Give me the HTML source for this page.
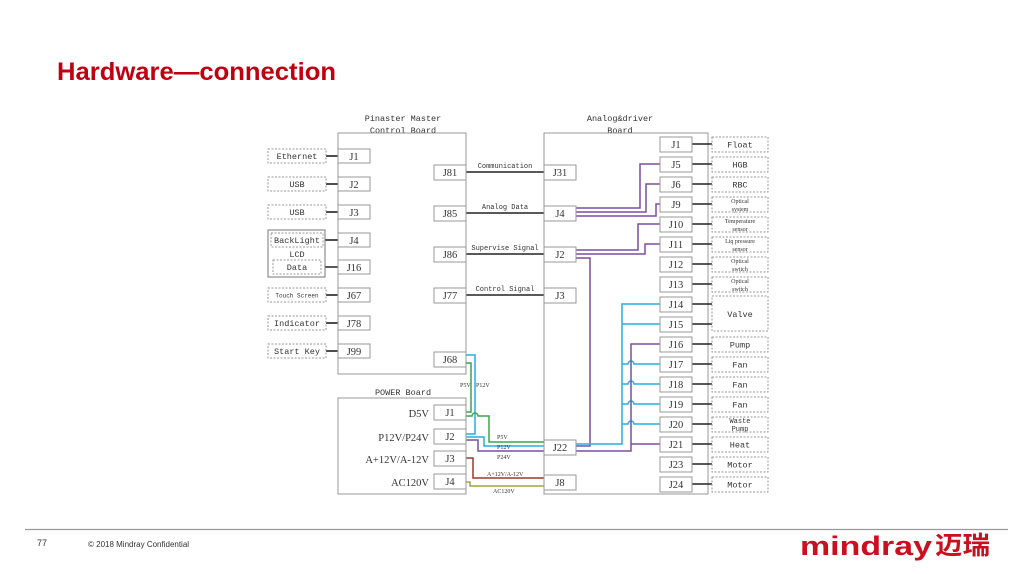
<!DOCTYPE html>
<html><head><meta charset="utf-8"><style>
html,body{margin:0;padding:0;background:#fff;width:1024px;height:574px;overflow:hidden}
svg{display:block}
.t{font-family:"Liberation Mono",monospace;font-size:8.5px;fill:#333}
.c{font-family:"Liberation Serif",serif;font-size:10.5px;fill:#333}
.s{font-family:"Liberation Mono",monospace;font-size:7px;fill:#333}
.xs{font-family:"Liberation Serif",serif;font-size:6px;fill:#333}
.b{fill:#fff;stroke:#999;stroke-width:1}
.d{fill:#fff;stroke:#999;stroke-width:1;stroke-dasharray:2,1.5}
.k{stroke:#222;stroke-width:1.6;fill:none}
.p{stroke:#7b4fa3;stroke-width:1.5;fill:none}
.cy{stroke:#29aee0;stroke-width:1.5;fill:none}
.g{stroke:#3aa650;stroke-width:1.5;fill:none}
</style></head><body>
<svg width="1024" height="574" viewBox="0 0 1024 574" xmlns="http://www.w3.org/2000/svg">
<text x="57" y="80" textLength="279" lengthAdjust="spacingAndGlyphs" style="font-family:'Liberation Sans',sans-serif;font-weight:bold;font-size:25px;fill:#c00010">Hardware—connection</text>

<!-- master board -->
<text class="t" x="403" y="121" text-anchor="middle">Pinaster Master</text>
<text class="t" x="403" y="133" text-anchor="middle">Control Board</text>
<rect class="b" x="338" y="133" width="128" height="241"/>
<!-- analog board -->
<text class="t" x="620" y="121" text-anchor="middle">Analog&amp;driver</text>
<text class="t" x="620" y="133" text-anchor="middle">Board</text>
<rect class="b" x="544" y="133" width="164" height="361"/>
<!-- power board -->
<text class="t" x="403" y="395" text-anchor="middle">POWER Board</text>
<rect class="b" x="338" y="398" width="128" height="96"/>

<!-- left externals -->
<g>
<line class="k" x1="326" y1="156" x2="338" y2="156"/><line class="k" x1="326" y1="184" x2="338" y2="184"/>
<line class="k" x1="326" y1="212" x2="338" y2="212"/><line class="k" x1="323" y1="240" x2="338" y2="240"/>
<line class="k" x1="321" y1="267" x2="338" y2="267"/><line class="k" x1="326" y1="295" x2="338" y2="295"/>
<line class="k" x1="326" y1="323" x2="338" y2="323"/><line class="k" x1="326" y1="351" x2="338" y2="351"/>
<rect class="d" x="268" y="149" width="58" height="14"/><text class="t" x="297" y="159" text-anchor="middle">Ethernet</text>
<rect class="d" x="268" y="177" width="58" height="14"/><text class="t" x="297" y="187" text-anchor="middle">USB</text>
<rect class="d" x="268" y="205" width="58" height="14"/><text class="t" x="297" y="215" text-anchor="middle">USB</text>
<rect class="b" x="268" y="230" width="57" height="47" style="stroke:#777"/>
<rect class="d" x="271" y="233" width="52" height="14"/><text class="t" x="297" y="243" text-anchor="middle">BackLight</text>
<text class="t" x="297" y="257" text-anchor="middle">LCD</text>
<rect class="d" x="273" y="260" width="48" height="14"/><text class="t" x="297" y="270" text-anchor="middle">Data</text>
<rect class="d" x="268" y="288" width="58" height="14"/><text class="s" x="297" y="297.5" text-anchor="middle" style="font-size:6px">Touch Screen</text>
<rect class="d" x="268" y="316" width="58" height="14"/><text class="t" x="297" y="326" text-anchor="middle">Indicator</text>
<rect class="d" x="268" y="344" width="58" height="14"/><text class="t" x="297" y="354" text-anchor="middle">Start Key</text>
</g>
<!-- master left connectors -->
<g>
<rect class="b" x="338" y="149" width="32" height="14"/><text class="c" x="354" y="160" text-anchor="middle">J1</text>
<rect class="b" x="338" y="177" width="32" height="14"/><text class="c" x="354" y="188" text-anchor="middle">J2</text>
<rect class="b" x="338" y="205" width="32" height="14"/><text class="c" x="354" y="216" text-anchor="middle">J3</text>
<rect class="b" x="338" y="233" width="32" height="14"/><text class="c" x="354" y="244" text-anchor="middle">J4</text>
<rect class="b" x="338" y="260" width="32" height="14"/><text class="c" x="354" y="271" text-anchor="middle">J16</text>
<rect class="b" x="338" y="288" width="32" height="14"/><text class="c" x="354" y="299" text-anchor="middle">J67</text>
<rect class="b" x="338" y="316" width="32" height="14"/><text class="c" x="354" y="327" text-anchor="middle">J78</text>
<rect class="b" x="338" y="344" width="32" height="14"/><text class="c" x="354" y="355" text-anchor="middle">J99</text>
</g>
<!-- master right connectors & signal lines -->
<g>
<line class="k" x1="466" y1="172" x2="544" y2="172"/><text class="s" x="505" y="168" text-anchor="middle">Communication</text>
<line class="k" x1="466" y1="213" x2="544" y2="213"/><text class="s" x="505" y="209" text-anchor="middle">Analog Data</text>
<line class="k" x1="466" y1="254" x2="544" y2="254"/><text class="s" x="505" y="250" text-anchor="middle">Supervise Signal</text>
<line class="k" x1="466" y1="295" x2="544" y2="295"/><text class="s" x="505" y="291" text-anchor="middle">Control Signal</text>
<rect class="b" x="434" y="165" width="32" height="15"/><text class="c" x="450" y="176" text-anchor="middle">J81</text>
<rect class="b" x="434" y="206" width="32" height="15"/><text class="c" x="450" y="217" text-anchor="middle">J85</text>
<rect class="b" x="434" y="247" width="32" height="15"/><text class="c" x="450" y="258" text-anchor="middle">J86</text>
<rect class="b" x="434" y="288" width="32" height="15"/><text class="c" x="450" y="299" text-anchor="middle">J77</text>
<rect class="b" x="434" y="352" width="32" height="15"/><text class="c" x="450" y="363" text-anchor="middle">J68</text>
</g>

<!-- purple signal lines -->
<polyline class="p" points="576,208 640,208 640,164 660,164"/>
<polyline class="p" points="576,212 646,212 646,184 660,184"/>
<polyline class="p" points="576,216 656,216 656,204 660,204"/>
<polyline class="p" points="576,250 638,250 638,224 660,224"/>
<polyline class="p" points="576,254 645,254 645,244 660,244"/>
<polyline class="p" points="576,258 590,258 590,446 576,446"/>
<!-- cyan -->
<polyline class="cy" points="576,444 622,444 622,304 660,304"/>
<line class="cy" x1="622" y1="324" x2="660" y2="324"/>
<path class="cy" d="M622 364 H628 a3 3 0 0 1 6 0 H660 M622 384 H628 a3 3 0 0 1 6 0 H660 M622 404 H628 a3 3 0 0 1 6 0 H660 M622 424 H628 a3 3 0 0 1 6 0 H660"/>
<!-- purple J16/J21 -->
<polyline class="p" points="576,451 631,451 631,344 660,344"/>
<line class="p" x1="631" y1="444" x2="660" y2="444"/>

<!-- power lines -->
<polyline class="cy" points="466,355 475,355 475,434 466,434"/>
<polyline class="g" points="466,363 471,363 471,412 466,412"/>
<path class="g" d="M466 416 H472 a3 3 0 0 1 6 0 H489 V442 H544"/>
<polyline class="cy" points="466,437 484,437 484,446 544,446"/>
<polyline class="p" points="466,440 478,440 478,451 544,451"/>
<polyline points="466,458 473,458 473,478 544,478" style="stroke:#9b3a2a;stroke-width:1.5;fill:none"/>
<polyline points="466,482 470,482 470,486 544,486" style="stroke:#a7a33b;stroke-width:1.5;fill:none"/>
<text class="xs" x="460" y="387">P5V</text><text class="xs" x="476" y="387">P12V</text>
<text class="xs" x="497" y="439">P5V</text>
<text class="xs" x="497" y="449">P12V</text>
<text class="xs" x="497" y="459">P24V</text>
<text class="xs" x="487" y="476">A+12V/A-12V</text>
<text class="xs" x="493" y="493">AC120V</text>

<!-- power connectors -->
<g>
<rect class="b" x="434" y="405" width="32" height="15"/><text class="c" x="450" y="416" text-anchor="middle">J1</text>
<rect class="b" x="434" y="429" width="32" height="15"/><text class="c" x="450" y="440" text-anchor="middle">J2</text>
<rect class="b" x="434" y="451" width="32" height="15"/><text class="c" x="450" y="462" text-anchor="middle">J3</text>
<rect class="b" x="434" y="474" width="32" height="15"/><text class="c" x="450" y="485" text-anchor="middle">J4</text>
<text class="c" x="429" y="417" text-anchor="end">D5V</text>
<text class="c" x="429" y="441" text-anchor="end">P12V/P24V</text>
<text class="c" x="429" y="463" text-anchor="end">A+12V/A-12V</text>
<text class="c" x="429" y="486" text-anchor="end">AC120V</text>
</g>

<!-- analog left connectors -->
<g>
<rect class="b" x="544" y="165" width="32" height="15"/><text class="c" x="560" y="176" text-anchor="middle">J31</text>
<rect class="b" x="544" y="206" width="32" height="15"/><text class="c" x="560" y="217" text-anchor="middle">J4</text>
<rect class="b" x="544" y="247" width="32" height="15"/><text class="c" x="560" y="258" text-anchor="middle">J2</text>
<rect class="b" x="544" y="288" width="32" height="15"/><text class="c" x="560" y="299" text-anchor="middle">J3</text>
<rect class="b" x="544" y="440" width="32" height="15"/><text class="c" x="560" y="451" text-anchor="middle">J22</text>
<rect class="b" x="544" y="475" width="32" height="15"/><text class="c" x="560" y="486" text-anchor="middle">J8</text>
</g>

<!-- analog right connectors -->
<g>
<path class="k" d="M692 144H712M692 164H712M692 184H712M692 204H712M692 224H712M692 244H712M692 264H712M692 284H712M692 304H712M692 324H712M692 344H712M692 364H712M692 384H712M692 404H712M692 424H712M692 444H712M692 464H712M692 484H712"/>
<rect class="b" x="660" y="137" width="32" height="15"/><text class="c" x="676" y="148" text-anchor="middle">J1</text>
<rect class="b" x="660" y="157" width="32" height="15"/><text class="c" x="676" y="168" text-anchor="middle">J5</text>
<rect class="b" x="660" y="177" width="32" height="15"/><text class="c" x="676" y="188" text-anchor="middle">J6</text>
<rect class="b" x="660" y="197" width="32" height="15"/><text class="c" x="676" y="208" text-anchor="middle">J9</text>
<rect class="b" x="660" y="217" width="32" height="15"/><text class="c" x="676" y="228" text-anchor="middle">J10</text>
<rect class="b" x="660" y="237" width="32" height="15"/><text class="c" x="676" y="248" text-anchor="middle">J11</text>
<rect class="b" x="660" y="257" width="32" height="15"/><text class="c" x="676" y="268" text-anchor="middle">J12</text>
<rect class="b" x="660" y="277" width="32" height="15"/><text class="c" x="676" y="288" text-anchor="middle">J13</text>
<rect class="b" x="660" y="297" width="32" height="15"/><text class="c" x="676" y="308" text-anchor="middle">J14</text>
<rect class="b" x="660" y="317" width="32" height="15"/><text class="c" x="676" y="328" text-anchor="middle">J15</text>
<rect class="b" x="660" y="337" width="32" height="15"/><text class="c" x="676" y="348" text-anchor="middle">J16</text>
<rect class="b" x="660" y="357" width="32" height="15"/><text class="c" x="676" y="368" text-anchor="middle">J17</text>
<rect class="b" x="660" y="377" width="32" height="15"/><text class="c" x="676" y="388" text-anchor="middle">J18</text>
<rect class="b" x="660" y="397" width="32" height="15"/><text class="c" x="676" y="408" text-anchor="middle">J19</text>
<rect class="b" x="660" y="417" width="32" height="15"/><text class="c" x="676" y="428" text-anchor="middle">J20</text>
<rect class="b" x="660" y="437" width="32" height="15"/><text class="c" x="676" y="448" text-anchor="middle">J21</text>
<rect class="b" x="660" y="457" width="32" height="15"/><text class="c" x="676" y="468" text-anchor="middle">J23</text>
<rect class="b" x="660" y="477" width="32" height="15"/><text class="c" x="676" y="488" text-anchor="middle">J24</text>
</g>
<!-- right externals -->
<g>
<rect class="d" x="712" y="137" width="56" height="15"/><text class="t" x="740" y="147.5" text-anchor="middle">Float</text>
<rect class="d" x="712" y="157" width="56" height="15"/><text class="t" x="740" y="167.5" text-anchor="middle">HGB</text>
<rect class="d" x="712" y="177" width="56" height="15"/><text class="t" x="740" y="187.5" text-anchor="middle">RBC</text>
<rect class="d" x="712" y="197" width="56" height="15"/><text class="xs" x="740" y="203" text-anchor="middle">Optical</text><text class="xs" x="740" y="211" text-anchor="middle">system</text>
<rect class="d" x="712" y="217" width="56" height="15"/><text class="xs" x="740" y="223" text-anchor="middle">Temperature</text><text class="xs" x="740" y="231" text-anchor="middle">sensor</text>
<rect class="d" x="712" y="237" width="56" height="15"/><text class="xs" x="740" y="243" text-anchor="middle">Liq pressure</text><text class="xs" x="740" y="251" text-anchor="middle">sensor</text>
<rect class="d" x="712" y="257" width="56" height="15"/><text class="xs" x="740" y="263" text-anchor="middle">Optical</text><text class="xs" x="740" y="271" text-anchor="middle">switch</text>
<rect class="d" x="712" y="277" width="56" height="15"/><text class="xs" x="740" y="283" text-anchor="middle">Optical</text><text class="xs" x="740" y="291" text-anchor="middle">switch</text>
<rect class="d" x="712" y="296" width="56" height="35"/><text class="t" x="740" y="317" text-anchor="middle">Valve</text>
<rect class="d" x="712" y="337" width="56" height="15"/><text class="t" x="740" y="347.5" text-anchor="middle">Pump</text>
<rect class="d" x="712" y="357" width="56" height="15"/><text class="t" x="740" y="367.5" text-anchor="middle">Fan</text>
<rect class="d" x="712" y="377" width="56" height="15"/><text class="t" x="740" y="387.5" text-anchor="middle">Fan</text>
<rect class="d" x="712" y="397" width="56" height="15"/><text class="t" x="740" y="407.5" text-anchor="middle">Fan</text>
<rect class="d" x="712" y="417" width="56" height="15"/><text class="s" x="740" y="423" text-anchor="middle">Waste</text><text class="s" x="740" y="431" text-anchor="middle">Pump</text>
<rect class="d" x="712" y="437" width="56" height="15"/><text class="t" x="740" y="447.5" text-anchor="middle">Heat</text>
<rect class="d" x="712" y="457" width="56" height="15"/><text class="t" x="740" y="467.5" text-anchor="middle">Motor</text>
<rect class="d" x="712" y="477" width="56" height="15"/><text class="t" x="740" y="487.5" text-anchor="middle">Motor</text>
</g>

<!-- footer -->
<line x1="25" y1="529.5" x2="1008" y2="529.5" stroke="#999" stroke-width="1.2"/>
<text x="37" y="546" style="font-family:'Liberation Sans',sans-serif;font-size:9px;fill:#333">77</text>
<text x="88" y="547" style="font-family:'Liberation Sans',sans-serif;font-size:8px;fill:#333">© 2018 Mindray Confidential</text>
<text x="800" y="555" textLength="132" lengthAdjust="spacingAndGlyphs" style="font-family:'Liberation Sans',sans-serif;font-weight:bold;font-size:27px;fill:#c8101e">mindray</text>
<text x="935" y="554" textLength="55" lengthAdjust="spacingAndGlyphs" style="font-family:'Noto Sans CJK SC',sans-serif;font-weight:bold;font-size:25px;fill:#c8101e">迈瑞</text>
</svg>
</body></html>
